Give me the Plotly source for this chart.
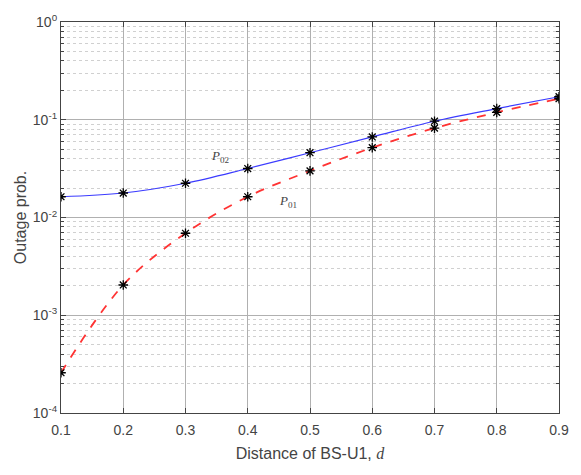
import plotly.graph_objects as go

d = [0.1, 0.2, 0.3, 0.4, 0.5, 0.6, 0.7, 0.8, 0.9]
p02 = [0.0163, 0.0178, 0.0224, 0.0317, 0.046, 0.0667, 0.0966, 0.130, 0.172]
p01 = [2.58e-4, 2.04e-3, 6.9e-3, 0.0163, 0.030, 0.0518, 0.082, 0.119, 0.164]
y_tickvals = [1e-4, 1e-3, 1e-2, 1e-1, 1]
y_ticktext = ["10<sup>-4</sup>", "10<sup>-3</sup>", "10<sup>-2</sup>", "10<sup>-1</sup>", "10<sup>0</sup>"]
x_ticks = [0.1, 0.2, 0.3, 0.4, 0.5, 0.6, 0.7, 0.8, 0.9]

fig = go.Figure()
fig.add_trace(go.Scatter(x=d, y=p02, mode="lines+markers", line=dict(color="#3b3bff", width=1.2, shape="spline"),
                         marker=dict(symbol="asterisk-open", size=8, color="black", line=dict(color="black", width=1.3)),
                         showlegend=False))
fig.add_trace(go.Scatter(x=d, y=p01, mode="lines+markers", line=dict(color="#ff3333", width=1.8, dash="dash", shape="spline"),
                         marker=dict(symbol="asterisk-open", size=8, color="black", line=dict(color="black", width=1.3)),
                         showlegend=False))

fig.add_annotation(x=0.357, y=-1.377, xref="x", yref="y", text="<i>P</i><sub>02</sub>", showarrow=False,
                   font=dict(family="Liberation Serif", size=13, color="#444"))
fig.add_annotation(x=0.465, y=-1.84, xref="x", yref="y", text="<i>P</i><sub>01</sub>", showarrow=False,
                   font=dict(family="Liberation Serif", size=13, color="#444"))

title_font = dict(family="Liberation Sans", size=16, color="#444")

fig.update_layout(
    width=581, height=475,
    margin=dict(l=61, r=19, t=15, b=62),
    plot_bgcolor="white", paper_bgcolor="white",
    font=dict(family="Liberation Sans", size=13, color="#444"),
    xaxis=dict(range=[0.1, 0.9], tickvals=x_ticks, ticks="inside", ticklen=5, tickcolor="#444",
               tickfont=dict(family="Liberation Sans", size=14, color="#444"), ticklabelstandoff=4,
               showgrid=True, gridcolor="#b0b0b0", gridwidth=1,
               showline=True, linecolor="#444", linewidth=1.2, mirror="ticks", zeroline=False,
               title=dict(text="Distance of BS-U1, <i><span style='font-family:Liberation Serif'>d</span></i>",
                          standoff=10, font=title_font)),
    yaxis=dict(type="log", range=[-4, 0], tickvals=y_tickvals, ticktext=y_ticktext, ticks="inside", ticklen=5,
               tickfont=dict(family="Liberation Sans", size=14, color="#444"),
               tickcolor="#444", showgrid=True, gridcolor="#b0b0b0", gridwidth=1,
               showline=True, linecolor="#444", linewidth=1.2, mirror="ticks", zeroline=False,
               minor=dict(dtick="D1", showgrid=True, gridcolor="#d0d0d0", griddash="dot", ticks="inside", ticklen=3, tickcolor="#444"),
               title=dict(text="Outage prob.", standoff=2, font=title_font)),
)

fig.write_html("out.html")
